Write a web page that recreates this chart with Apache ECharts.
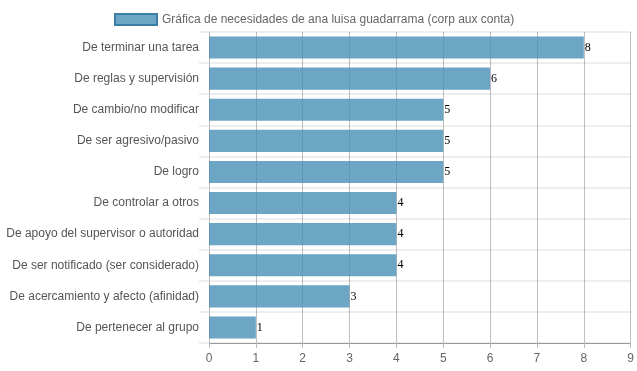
<!DOCTYPE html>
<html>
<head>
<meta charset="utf-8">
<script src="https://cdn.jsdelivr.net/npm/echarts@6/dist/echarts.min.js"></script>
<style>html,body{margin:0;padding:0;background:#fff;}#c{width:637px;height:371px;}</style>
</head>
<body>
<div id="c"></div>
<script>
var categories = ["De terminar una tarea","De reglas y supervisión","De cambio/no modificar","De ser agresivo/pasivo","De logro","De controlar a otros","De apoyo del supervisor o autoridad","De ser notificado (ser considerado)","De acercamiento y afecto (afinidad)","De pertenecer al grupo"];
var values = [8,6,5,5,5,4,4,4,3,1];
var seriesName = "Gráfica de necesidades de ana luisa guadarrama (corp aux conta)";
var xTicks = [0,1,2,3,4,5,6,7,8,9];

var chart = echarts.init(document.getElementById('c'), null, {renderer:'canvas'});
chart.setOption({
  animation:false,
  legend:{
    top:8, left:109, padding:5,
    icon:'rect',
    itemWidth:42, itemHeight:11, itemGap:6,
    textStyle:{color:'#666', fontSize:12, fontFamily:'Liberation Sans, Arial'},
    data:[{name:seriesName, itemStyle:{color:'rgba(71,144,181,0.8)', borderColor:'#3a7fa6', borderWidth:2}}]
  },
  grid:{left:209, right:6, top:32, bottom:28, containLabel:false},
  xAxis:{
    type:'value', min:0, max:9, interval:1,
    axisLine:{show:true, lineStyle:{color:'#999'}},
    axisTick:{show:true, length:5, lineStyle:{color:'#bbb'}},
    axisLabel:{color:'#666', fontSize:12, fontFamily:'Liberation Sans, Arial', margin:10,
      formatter:function(v){return xTicks.indexOf(v)>=0?String(v):'';}},
    splitLine:{show:true, lineStyle:{color:'rgba(0,0,0,0.25)', width:1}}
  },
  yAxis:{
    type:'category', inverse:true, data:categories,
    axisLine:{show:true, lineStyle:{color:'#bbb'}},
    axisTick:{show:true, length:10, lineStyle:{color:'#eee', width:2}},
    axisLabel:{color:'#555', fontSize:12, fontFamily:'Liberation Sans, Arial', margin:10},
    splitLine:{show:true, lineStyle:{color:'#eee', width:2}}
  },
  series:[{
    name:seriesName, type:'bar', data:values,
    barCategoryGap:'29%',
    itemStyle:{color:'rgba(71,144,181,0.8)'},
    label:{show:true, position:'right', distance:1, color:'#000', fontSize:12, fontFamily:'Liberation Serif, Times New Roman, serif'}
  }]
});
</script>
</body>
</html>
